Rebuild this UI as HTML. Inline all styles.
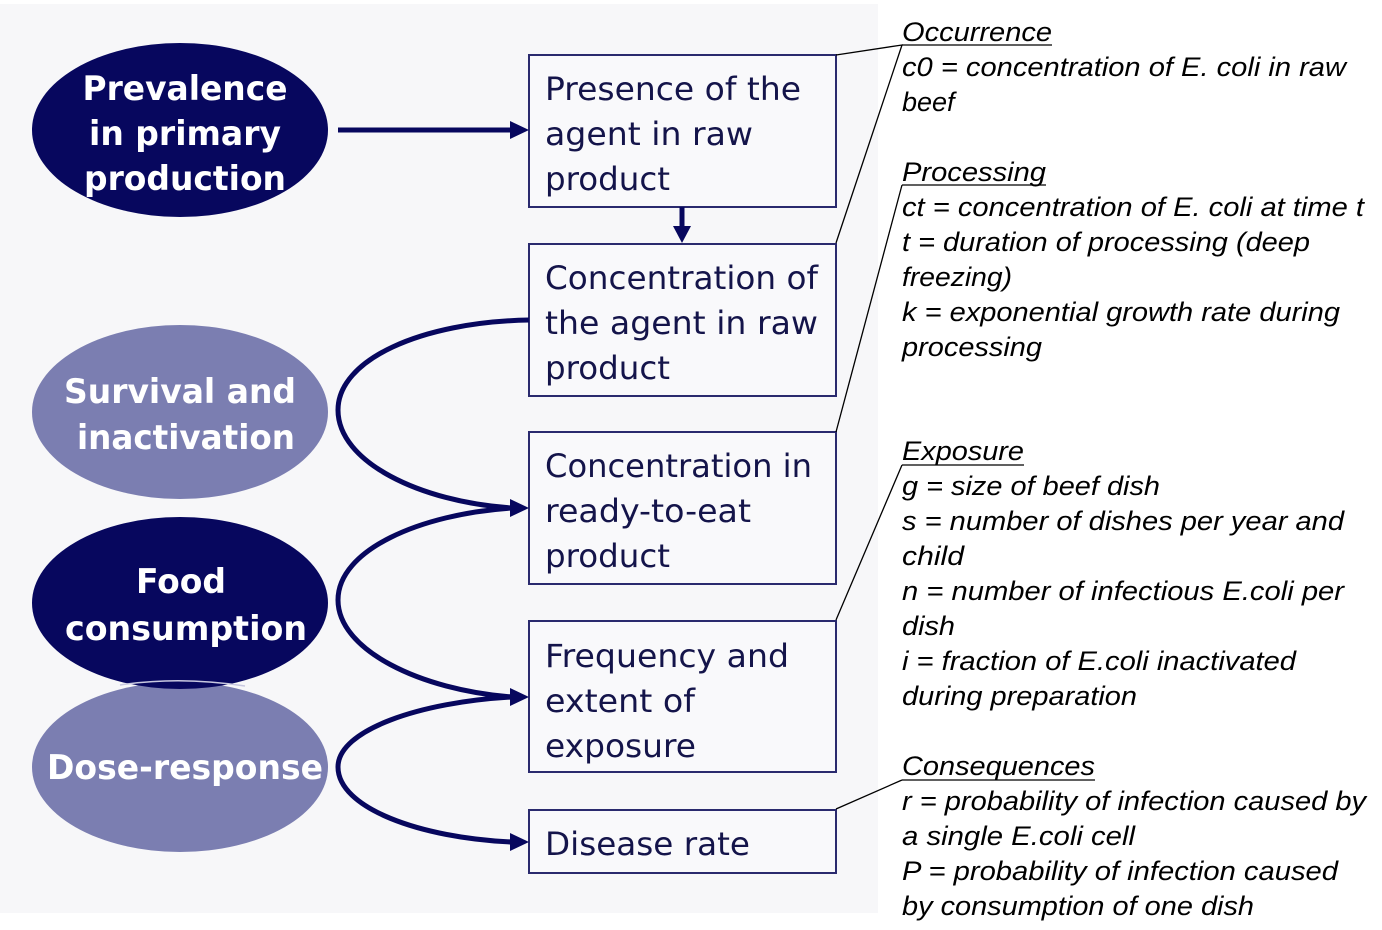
<!DOCTYPE html>
<html><head><meta charset="utf-8"><style>
html,body{margin:0;padding:0;background:#fff;}
svg{display:block;}
.bx{font-family:"DejaVu Sans",Verdana,sans-serif;font-size:32px;fill:#14144a;}
.el{font-family:"DejaVu Sans","Liberation Sans",sans-serif;font-weight:bold;font-size:34px;fill:#fff;text-anchor:middle;}
.rt{font-family:"Liberation Sans",Arial,sans-serif;font-style:italic;font-size:27px;fill:#000;}
</style></head><body>
<svg width="1382" height="930" viewBox="0 0 1382 930" xmlns="http://www.w3.org/2000/svg">
<defs>
<marker id="ah" markerWidth="8" markerHeight="8" refX="6" refY="4" orient="auto" markerUnits="userSpaceOnUse" viewBox="0 0 8 8">
</marker>
</defs>
<rect x="0" y="0" width="1382" height="930" fill="#fff"/>
<rect x="0" y="4" width="878" height="909" fill="#f7f7f9"/>

<!-- ellipses -->
<ellipse cx="180" cy="130" rx="148" ry="87" fill="#07075e"/>
<ellipse cx="180" cy="412" rx="148" ry="87" fill="#7b7eb1"/>
<ellipse cx="180" cy="767" rx="148" ry="85" fill="#7b7eb1"/>
<ellipse cx="180" cy="603" rx="148" ry="86" fill="#07075e"/>
<path d="M120 685 Q180 676 245 686" stroke="#c8c8e0" stroke-width="1.5" fill="none"/>

<text class="el" x="185" y="100" textLength="205" lengthAdjust="spacingAndGlyphs">Prevalence</text>
<text class="el" x="185" y="145" textLength="192" lengthAdjust="spacingAndGlyphs">in primary</text>
<text class="el" x="185" y="190" textLength="202" lengthAdjust="spacingAndGlyphs">production</text>
<text class="el" x="180" y="403" textLength="232" lengthAdjust="spacingAndGlyphs">Survival and</text>
<text class="el" x="186" y="449" textLength="218" lengthAdjust="spacingAndGlyphs">inactivation</text>
<text class="el" x="181" y="593" textLength="90" lengthAdjust="spacingAndGlyphs">Food</text>
<text class="el" x="186" y="640" textLength="242" lengthAdjust="spacingAndGlyphs">consumption</text>
<text class="el" x="185" y="779" textLength="276" lengthAdjust="spacingAndGlyphs">Dose-response</text>

<!-- boxes -->
<g fill="#f9f9fb" stroke="#2a2a6e" stroke-width="2">
<rect x="529" y="55" width="307" height="152"/>
<rect x="529" y="244" width="307" height="152"/>
<rect x="529" y="432" width="307" height="152"/>
<rect x="529" y="621" width="307" height="151"/>
<rect x="529" y="810" width="307" height="63"/>
</g>
<text class="bx" x="545" y="100" textLength="256" lengthAdjust="spacingAndGlyphs">Presence of the</text>
<text class="bx" x="545" y="145" textLength="208" lengthAdjust="spacingAndGlyphs">agent in raw</text>
<text class="bx" x="545" y="190" textLength="125" lengthAdjust="spacingAndGlyphs">product</text>
<text class="bx" x="545" y="289" textLength="273" lengthAdjust="spacingAndGlyphs">Concentration of</text>
<text class="bx" x="545" y="334" textLength="273" lengthAdjust="spacingAndGlyphs">the agent in raw</text>
<text class="bx" x="545" y="379" textLength="125" lengthAdjust="spacingAndGlyphs">product</text>
<text class="bx" x="545" y="477" textLength="267" lengthAdjust="spacingAndGlyphs">Concentration in</text>
<text class="bx" x="545" y="522" textLength="206" lengthAdjust="spacingAndGlyphs">ready-to-eat</text>
<text class="bx" x="545" y="567" textLength="125" lengthAdjust="spacingAndGlyphs">product</text>
<text class="bx" x="545" y="667" textLength="244" lengthAdjust="spacingAndGlyphs">Frequency and</text>
<text class="bx" x="545" y="712" textLength="150" lengthAdjust="spacingAndGlyphs">extent of</text>
<text class="bx" x="545" y="757" textLength="151" lengthAdjust="spacingAndGlyphs">exposure</text>
<text class="bx" x="545" y="855" textLength="205" lengthAdjust="spacingAndGlyphs">Disease rate</text>

<!-- connectors -->
<g stroke="#07075e" stroke-width="5" fill="none">
<line x1="338" y1="130" x2="512" y2="130"/>
<line x1="682" y1="207" x2="682" y2="228"/>
<path d="M529 320 C420 322 338 360 338 410 C338 462 420 502 512 508"/>
<path d="M512 508 C420 514 338 550 338 600 C338 650 420 690 512 697"/>
<path d="M512 697 C420 702 338 730 338 767 C338 808 420 838 512 842"/>
</g>
<g fill="#07075e">
<polygon points="510,121 529,130 510,139"/>
<polygon points="673,226 682,243 691,226"/>
<polygon points="510,499 529,508 510,517"/>
<polygon points="510,688 529,697 510,706"/>
<polygon points="510,833 529,842 510,851"/>
</g>

<!-- callout lines -->
<g stroke="#000" stroke-width="1.3" fill="none">
<polyline points="836,55 902,45 836,243"/>
<line x1="902" y1="185" x2="836" y2="432"/>
<line x1="902" y1="465" x2="836" y2="620"/>
<line x1="902" y1="780" x2="836" y2="809"/>
<line x1="902" y1="45" x2="1052" y2="45"/>
<line x1="902" y1="185" x2="1046" y2="185"/>
<line x1="902" y1="465" x2="1024" y2="465"/>
<line x1="902" y1="780" x2="1095" y2="780"/>
</g>

<!-- right text -->
<g class="rt">
<text x="902" y="41" textLength="150" lengthAdjust="spacingAndGlyphs">Occurrence</text>
<text x="902" y="76" textLength="444" lengthAdjust="spacingAndGlyphs">c0 = concentration of E. coli in raw</text>
<text x="902" y="111">beef</text>
<text x="902" y="181" textLength="144" lengthAdjust="spacingAndGlyphs">Processing</text>
<text x="902" y="216" textLength="462" lengthAdjust="spacingAndGlyphs">ct = concentration of E. coli at time t</text>
<text x="902" y="251" textLength="408" lengthAdjust="spacingAndGlyphs">t = duration of processing (deep</text>
<text x="902" y="286" textLength="110" lengthAdjust="spacingAndGlyphs">freezing)</text>
<text x="902" y="321" textLength="438" lengthAdjust="spacingAndGlyphs">k = exponential growth rate during</text>
<text x="902" y="356" textLength="140" lengthAdjust="spacingAndGlyphs">processing</text>
<text x="902" y="460" textLength="122" lengthAdjust="spacingAndGlyphs">Exposure</text>
<text x="902" y="495" textLength="258" lengthAdjust="spacingAndGlyphs">g = size of beef dish</text>
<text x="902" y="530" textLength="442" lengthAdjust="spacingAndGlyphs">s = number of dishes per year and</text>
<text x="902" y="565" textLength="62" lengthAdjust="spacingAndGlyphs">child</text>
<text x="902" y="600" textLength="442" lengthAdjust="spacingAndGlyphs">n = number of infectious E.coli per</text>
<text x="902" y="635" textLength="53" lengthAdjust="spacingAndGlyphs">dish</text>
<text x="902" y="670" textLength="394" lengthAdjust="spacingAndGlyphs">i = fraction of E.coli inactivated</text>
<text x="902" y="705" textLength="235" lengthAdjust="spacingAndGlyphs">during preparation</text>
<text x="902" y="775" textLength="193" lengthAdjust="spacingAndGlyphs">Consequences</text>
<text x="902" y="810" textLength="464" lengthAdjust="spacingAndGlyphs">r = probability of infection caused by</text>
<text x="902" y="845" textLength="233" lengthAdjust="spacingAndGlyphs">a single E.coli cell</text>
<text x="902" y="880" textLength="436" lengthAdjust="spacingAndGlyphs">P = probability of infection caused</text>
<text x="902" y="915" textLength="352" lengthAdjust="spacingAndGlyphs">by consumption of one dish</text>
</g>
</svg>
</body></html>
